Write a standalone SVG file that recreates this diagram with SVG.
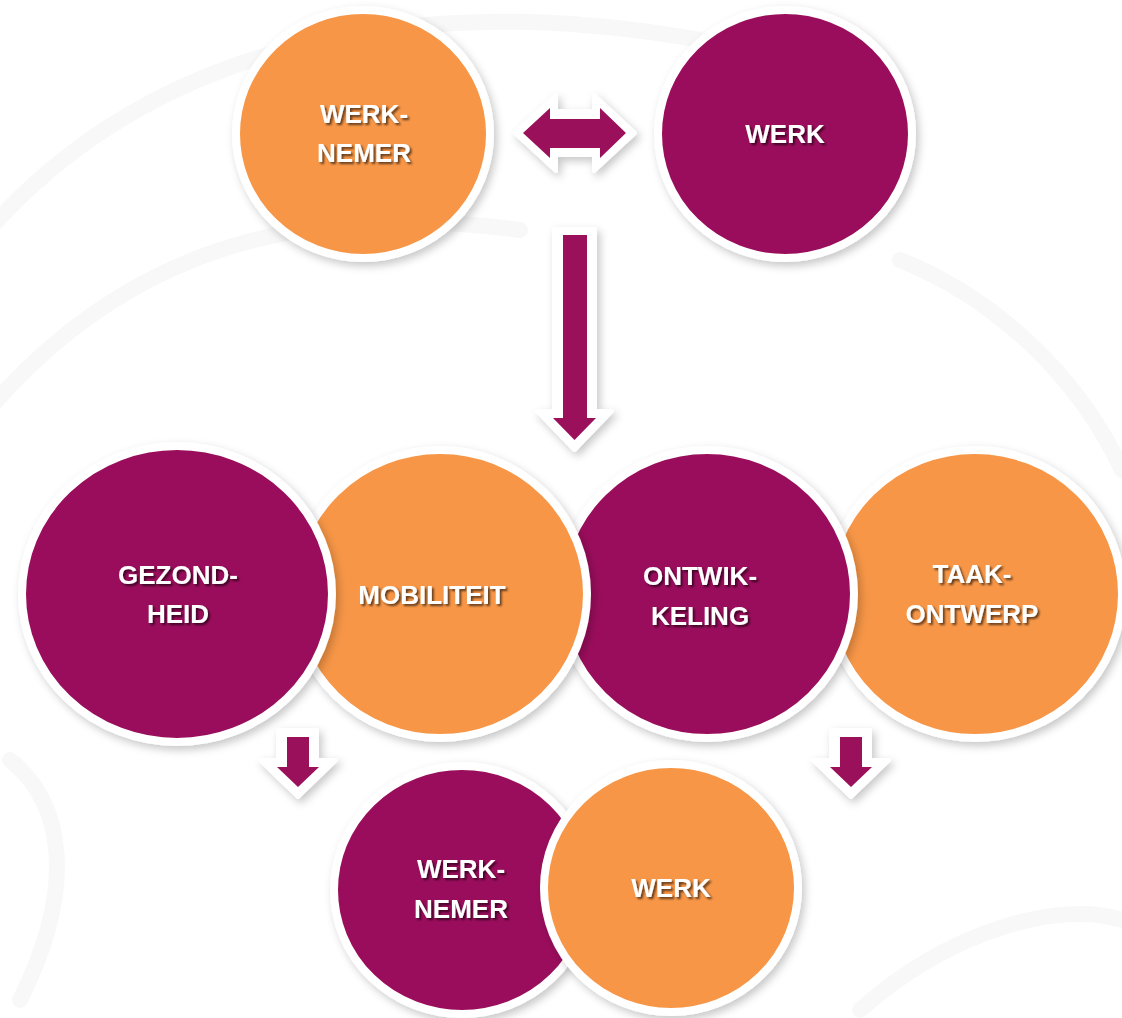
<svg xmlns="http://www.w3.org/2000/svg" width="1122" height="1018" viewBox="0 0 1122 1018">
  <defs>
    <filter id="shadow" x="-20%" y="-20%" width="140%" height="140%">
      <feDropShadow dx="3" dy="4" stdDeviation="4" flood-color="#000" flood-opacity="0.22"/>
    </filter>
    <filter id="tshadow" x="-10%" y="-20%" width="120%" height="150%">
      <feDropShadow dx="2" dy="2" stdDeviation="1.2" flood-color="#000" flood-opacity="0.6"/>
    </filter>
    <style>
      .purple { fill: #9A105B; stroke: #fff; stroke-width: 8; filter: url(#shadow); }
      .orange { fill: #F79646; stroke: #fff; stroke-width: 8; filter: url(#shadow); }
      .arrow-bg { fill: #fff; stroke: #fff; stroke-width: 4; stroke-linejoin: round; filter: url(#shadow); }
      .arrow { fill: #9A105B; }
      .lbl { font-family: "Liberation Sans", Arial, sans-serif; font-weight: bold; font-size: 26px; fill: #fff; text-anchor: middle; filter: url(#tshadow); }
      .bg { fill: none; stroke: #f8f8f8; stroke-width: 16; stroke-linecap: round; }
    </style>
  </defs>
  <rect width="1122" height="1018" fill="#fff"/>
  <g id="background">
    <path class="bg" d="M -20 240 C 150 40, 420 -10, 700 40"/>
    <path class="bg" d="M -20 420 C 120 250, 300 200, 520 230"/>
    <path class="bg" d="M 20 1000 C 80 880, 60 800, 10 760"/>
    <path class="bg" d="M 900 260 C 1000 300, 1080 380, 1122 470"/>
    <path class="bg" d="M 860 1010 C 950 930, 1060 900, 1122 920"/>
  </g>
  <g id="connectors">
    <g id="arrow-double">
      <path class="arrow-bg" d="M515,133 L556,95 L556,111 L594,111 L594,95 L635,133 L594,171 L594,155 L556,155 L556,171 Z"/>
      <path class="arrow" d="M523,133 L550,108 L550,119 L600,119 L600,108 L626,133 L600,158 L600,148 L550,148 L550,158 Z"/>
    </g>
    <g id="arrow-down">
      <path class="arrow-bg" d="M554,229 L595,229 L595,411 L612,411 L574.5,450 L537,411 L554,411 Z"/>
      <path class="arrow" d="M563,235 L587,235 L587,418 L596,418 L574.5,440 L553,418 L563,418 Z"/>
    </g>
    <g id="arrow-left-small">
      <path class="arrow-bg" d="M278,730 L317,730 L317,760 L336,760 L298,797 L260,760 L278,760 Z"/>
      <path class="arrow" d="M287,737 L309,737 L309,767 L319,767 L298,787 L277,767 L287,767 Z"/>
    </g>
    <g id="arrow-right-small">
      <path class="arrow-bg" d="M831,730 L870,730 L870,760 L889,760 L851,797 L813,760 L831,760 Z"/>
      <path class="arrow" d="M840,737 L862,737 L862,767 L872,767 L851,787 L830,767 L840,767 Z"/>
    </g>
  </g>
  <g id="node-werknemer-top">
    <ellipse class="orange" cx="363" cy="134" rx="127" ry="124"/>
    <text class="lbl" x="364" y="123">WERK-</text>
    <text class="lbl" x="364" y="162">NEMER</text>
  </g>
  <g id="node-werk-top">
    <ellipse class="purple" cx="785" cy="134" rx="127" ry="124"/>
    <text class="lbl" x="785" y="143">WERK</text>
  </g>
  <g id="node-taakontwerp">
    <ellipse class="orange" cx="975" cy="594" rx="147" ry="144"/>
    <text class="lbl" x="972" y="583">TAAK-</text>
    <text class="lbl" x="972" y="623">ONTWERP</text>
  </g>
  <g id="node-ontwikkeling">
    <ellipse class="purple" cx="707" cy="594" rx="147" ry="144"/>
    <text class="lbl" x="700" y="585">ONTWIK-</text>
    <text class="lbl" x="700" y="625">KELING</text>
  </g>
  <g id="node-mobiliteit">
    <ellipse class="orange" cx="440" cy="594" rx="147" ry="144"/>
    <text class="lbl" x="432" y="604">MOBILITEIT</text>
  </g>
  <g id="node-gezondheid">
    <ellipse class="purple" cx="177" cy="594" rx="155" ry="148"/>
    <text class="lbl" x="178" y="584">GEZOND-</text>
    <text class="lbl" x="178" y="623">HEID</text>
  </g>
  <g id="node-werknemer-bottom">
    <ellipse class="purple" cx="462" cy="890" rx="128" ry="124"/>
    <text class="lbl" x="461" y="878">WERK-</text>
    <text class="lbl" x="461" y="918">NEMER</text>
  </g>
  <g id="node-werk-bottom">
    <ellipse class="orange" cx="671" cy="888" rx="127" ry="124"/>
    <text class="lbl" x="671" y="897">WERK</text>
  </g>
</svg>
